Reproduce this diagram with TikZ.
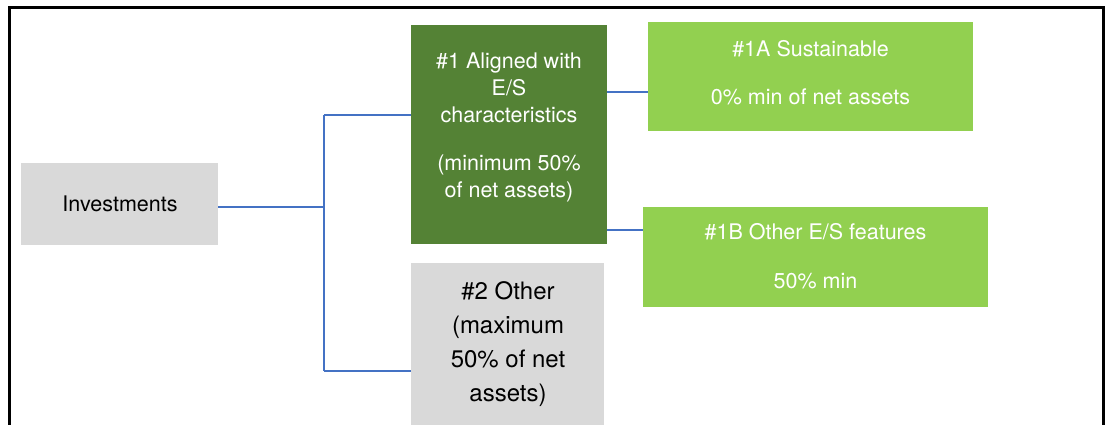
\documentclass[tikz,border=0pt]{standalone}
\usepackage{fontspec}
\setmainfont{TeX Gyre Heros}
\definecolor{darkgreen}{HTML}{548235}
\definecolor{lightgreen}{HTML}{92D050}
\definecolor{boxgray}{HTML}{D9D9D9}
\definecolor{connblue}{HTML}{4472C4}
\begin{document}
\begin{tikzpicture}[x=1pt,y=-1pt,
  box/.style={anchor=north west,inner sep=0pt,outer sep=0pt,draw=none},
  txt/.style={align=center,inner sep=0pt,font=\fontsize{21.5}{27}\selectfont},
  bigtxt/.style={align=center,inner sep=0pt,font=\fontsize{24}{34}\selectfont},
  conn/.style={draw=connblue,line width=1.2pt},
  frame/.style={draw=black,line width=3pt}]
\useasboundingbox (0,0) rectangle (1110,424);
% frame
\draw[frame] (9.5,430) -- (9.5,7.7) -- (1103.5,7.7) -- (1103.5,430);
% boxes
\node[box,fill=boxgray,minimum width=197pt,minimum height=82pt] (inv) at (21,163) {};
\node[box,fill=darkgreen,minimum width=196pt,minimum height=219pt] (b1) at (411,25) {};
\node[box,fill=boxgray,minimum width=193pt,minimum height=165pt] (b2) at (411,263) {};
\node[box,fill=lightgreen,minimum width=325pt,minimum height=109pt] (s1a) at (648,22) {};
\node[box,fill=lightgreen,minimum width=345pt,minimum height=100pt] (s1b) at (643,207) {};
% texts
\node[txt,text=black] (tinv) at (120,204) {Investments};
\node[txt,text=white] (tb1) at (509,127) {\#1 Aligned with\\E/S\\characteristics\\[21pt](minimum 50\%\\of net assets)};
\node[bigtxt,text=black] (tb2) at (508,344) {\#2 Other\\(maximum\\50\% of net\\assets)};
\node[txt,text=white] (ts1a) at (810.5,72.5) {\#1A Sustainable\\[21pt]0\% min of net assets};
\node[txt,text=white] (ts1b) at (815.5,256) {\#1B Other E/S features\\[22pt]50\% min};
% connectors
\coordinate (j) at (324,207);
\coordinate (ja) at (324,115);
\coordinate (jb) at (324,371);
\draw[conn] (inv.east |- j) -- (j);
\draw[conn] (ja) -- (jb);
\draw[conn] (ja) -- (ja -| b1.west);
\draw[conn] (jb) -- (jb -| b2.west);
\draw[conn] ([yshift=-67pt]b1.north east) -- ([yshift=-67pt]b1.north east -| s1a.west);
\draw[conn] ([yshift=-205pt]b1.north east) -- ([yshift=-205pt]b1.north east -| s1b.west);
\end{tikzpicture}
\end{document}
